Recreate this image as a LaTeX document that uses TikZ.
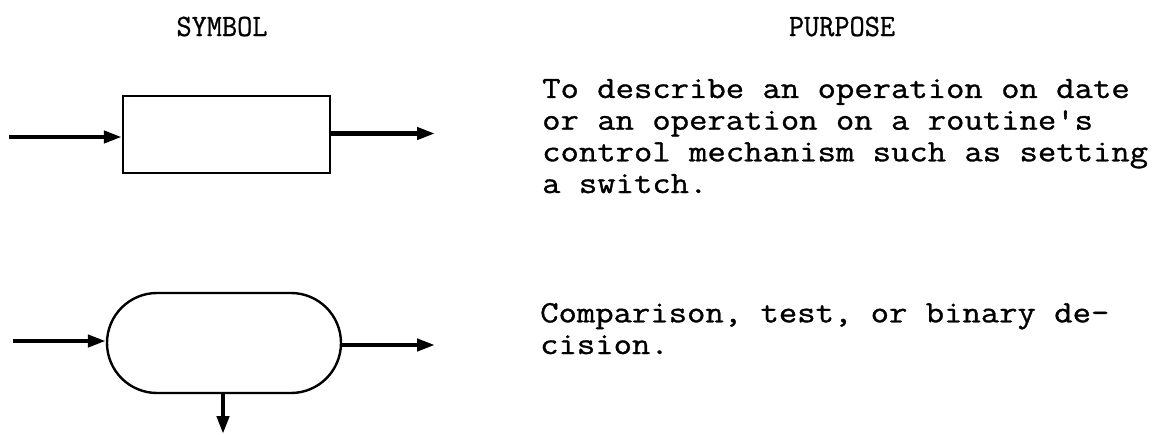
\documentclass[tikz,border=0pt]{standalone}
\usepackage{fontspec}
\setmonofont{Latin Modern Mono}[FakeStretch=1.15, FakeBold=1.0]
\newfontfamily\headfont{Latin Modern Mono}[FakeStretch=0.95, FakeBold=0.8]
\usetikzlibrary{arrows.meta}
\tikzset{
  flow/.style={line width=4.2pt, -{Triangle[length=18pt,width=12pt]}},
  opbox/.style={draw, line width=2.4pt, rectangle, inner sep=0pt,
    minimum width=207pt, minimum height=77pt},
  decbox/.style={draw, line width=2.4pt, rectangle, rounded corners=50pt,
    inner sep=0pt, minimum width=234pt, minimum height=100pt},
  typed/.style={font=\ttfamily\fontsize{31}{31.67}\selectfont, inner sep=0pt,
    align=left, anchor=base west},
  heading/.style={font=\headfont\fontsize{31}{32}\selectfont, inner sep=0pt,
    anchor=base}
}
\begin{document}
\begin{tikzpicture}[x=1pt, y=1pt]
\useasboundingbox (0,0) rectangle (1169,-434);

% column headings
\node[heading] (hsym) at (222,-36) {SYMBOL};
\node[heading] (hpur) at (842,-36) {PURPOSE};

% process symbol
\node[opbox] (op) at (226.5,-134.5) {};
\coordinate (opin) at (9,-137);
\coordinate (opout) at (435,-133.5);
\draw[flow] (opin) -- (opin -| op.west);
\draw[flow] (opout -| op.east) -- (opout);

% decision symbol
\node[decbox] (dec) at (224,-343) {};
\coordinate (decin) at (13,-341);
\coordinate (decout) at (435,-345);
\coordinate (decdown) at (223,-434);
\draw[flow] (decin) -- (decin -| dec.west);
\draw[flow] (decout -| dec.east) -- (decout);
\draw[flow] (decdown |- dec.south) -- (decdown);

% descriptions (anchored on the baseline of their last line)
\node[typed] (t1) at (542,-193) {To describe an operation on date\\
or an operation on a routine's\\
control mechanism such as setting\\
a switch.};
\node[typed] (t2) at (540,-354) {Comparison, test, or binary de-\\
cision.};
\end{tikzpicture}
\end{document}
